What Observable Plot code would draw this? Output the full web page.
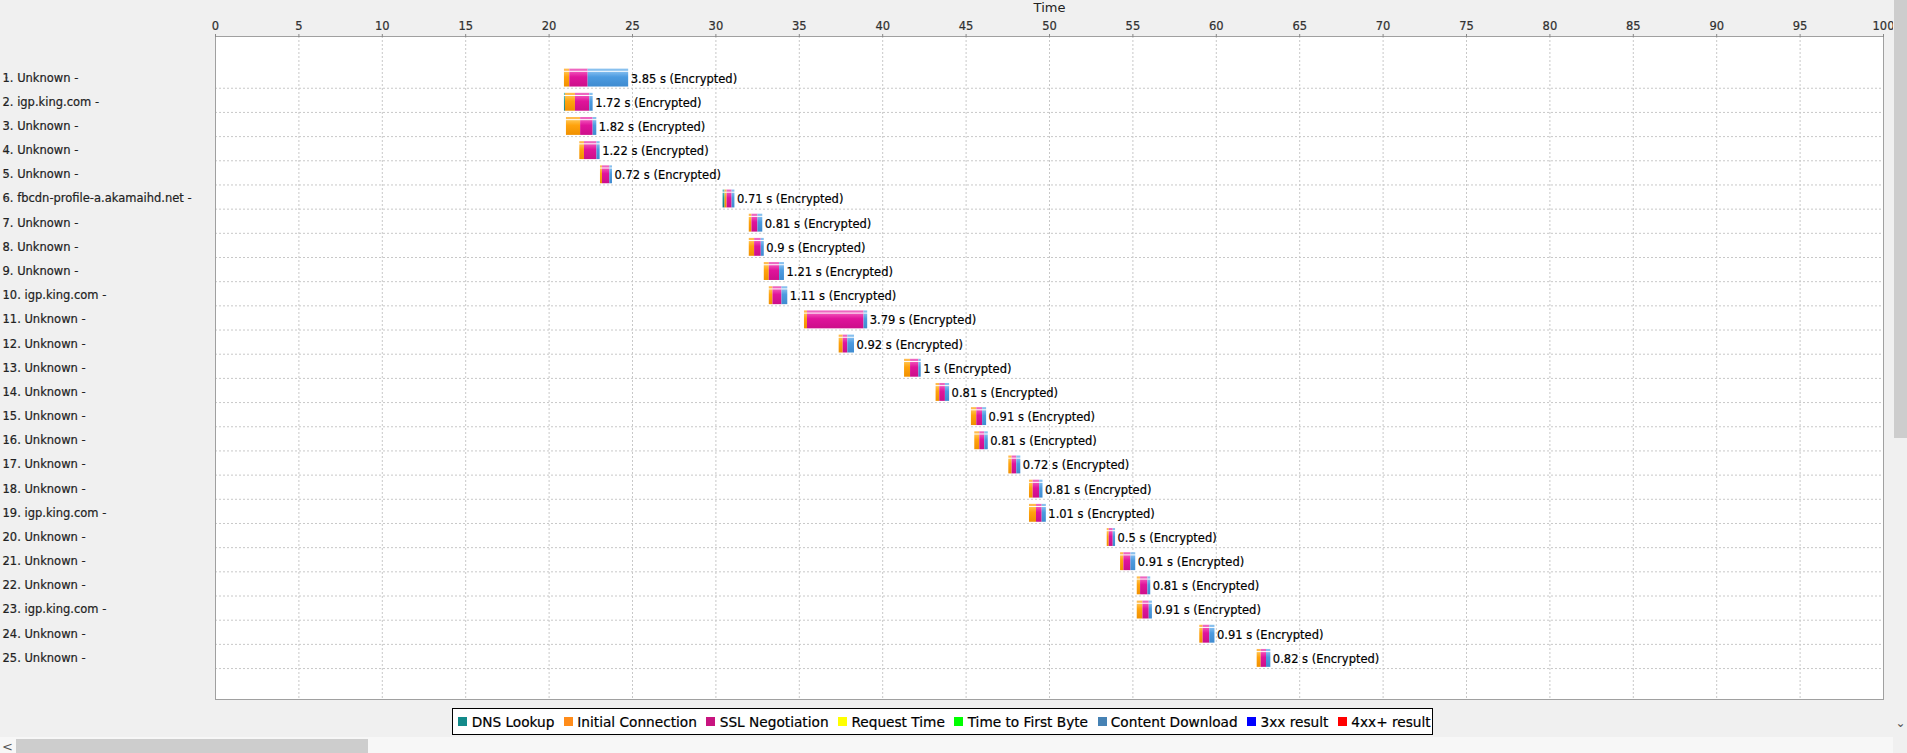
<!DOCTYPE html>
<html>
<head>
<meta charset="utf-8">
<script src="https://cdn.jsdelivr.net/npm/d3@7"></script>
<script src="https://cdn.jsdelivr.net/npm/@observablehq/plot@0.6"></script>
<style>
html, body { margin: 0; padding: 0; background: #f0f0f0; overflow: hidden; }
#wrap { position: relative; width: 1907px; height: 753px; font-family: "DejaVu Sans", sans-serif; }
#chart { position: absolute; left: 0; top: 0; }
#legend { position: absolute; top: 708px; left: 0; width: 1885px; display: flex; justify-content: center; }
#legend .box { display: flex; align-items: center; height: 25px; border: 1px solid #000; background: #fff; padding: 0 1px 0 5px; font-size: 13.7px; color: #000; white-space: nowrap; -webkit-text-stroke: 0.2px #000; }
#legend .item { display: flex; align-items: center; margin-right: 9.5px; }
#legend .item:last-child { margin-right: 0; }
#legend .sw { width: 9px; height: 9px; margin-right: 4.3px; }
#vscroll { position: absolute; left: 1893px; top: 0; width: 14px; height: 737px; background: #f0f0f0; }
#vthumb { position: absolute; left: 1px; top: 0; width: 13px; height: 438px; background: #cdcdcd; }
#vdown { position: absolute; left: 1px; top: 716px; width: 13px; text-align: center; font-size: 12px; color: #555; }
#hscroll { position: absolute; left: 0; top: 737px; width: 1893px; height: 16px; background: #f7f7f7; }
#hthumb { position: absolute; left: 16px; top: 2px; width: 352px; height: 14px; background: #cdcdcd; }
#hleft { position: absolute; left: 2px; top: 2px; font-size: 13px; color: #555; }
</style>
</head>
<body>
<div id="wrap">
  <div id="chart"></div>
  <div id="legend"><div class="box" id="legendBox"></div></div>
  <div id="vscroll"><div id="vthumb"></div><div id="vdown">&#8964;</div></div>
  <div id="hscroll"><div id="hleft">&lt;</div><div id="hthumb"></div></div>
</div>
<script>
// ---- data ----
const hosts = ["Unknown","igp.king.com","Unknown","Unknown","Unknown","fbcdn-profile-a.akamaihd.net","Unknown","Unknown","Unknown","igp.king.com",
  "Unknown","Unknown","Unknown","Unknown","Unknown","Unknown","Unknown","Unknown","igp.king.com","Unknown",
  "Unknown","Unknown","igp.king.com","Unknown","Unknown"];
const starts   = [20.92,20.92,21.04,21.84,23.08,30.43,32.0,32.0,32.9,33.2,35.31,37.39,41.31,43.2,45.32,45.52,47.56,48.8,48.8,53.46,54.26,55.26,55.26,59.01,62.45];
const dns      = [0,0.06,0,0,0,0.12,0,0,0,0,0,0,0,0,0,0,0,0,0,0,0,0,0,0,0];
const connect  = [0.32,0.60,0.85,0.28,0.12,0.12,0.16,0.32,0.30,0.22,0.18,0.24,0.36,0.22,0.32,0.30,0.20,0.22,0.42,0.12,0.20,0.20,0.34,0.20,0.24];
const ssl      = [1.10,0.86,0.75,0.75,0.44,0.30,0.36,0.40,0.62,0.54,3.39,0.28,0.50,0.34,0.35,0.30,0.28,0.39,0.34,0.24,0.42,0.44,0.38,0.40,0.32];
const request  = [0,0,0,0,0,0,0,0,0,0,0,0,0,0,0,0,0,0,0,0,0,0,0,0,0];
const ttfb     = [0,0,0,0,0,0,0,0,0,0,0,0,0,0,0,0,0,0,0,0,0,0,0,0,0];
const download = [2.43,0.20,0.22,0.19,0.16,0.17,0.29,0.18,0.29,0.35,0.22,0.40,0.14,0.25,0.24,0.21,0.24,0.20,0.25,0.14,0.29,0.17,0.19,0.31,0.26];
const totals   = [3.85,1.72,1.82,1.22,0.72,0.71,0.81,0.9,1.21,1.11,3.79,0.92,1,0.81,0.91,0.81,0.72,0.81,1.01,0.5,0.91,0.81,0.91,0.91,0.82];
const xTicks   = [0,5,10,15,20,25,30,35,40,45,50,55,60,65,70,75,80,85,90,95,100];
const phases   = ["DNS Lookup","Initial Connection","SSL Negotiation","Request Time","Time to First Byte","Content Download"];
const legendNames  = ["DNS Lookup","Initial Connection","SSL Negotiation","Request Time","Time to First Byte","Content Download","3xx result","4xx+ result"];
const legendColors = ["#138a8a","#ff8c1a","#c8147f","#ffff00","#00ff00","#4682b4","#0000ff","#ff0000"];

// bar colours (gradient light -> base -> dark) and top strip colour
const barLight = ["#4fb8b8","#ffc24a","#f04fb8","#ffff80","#80ff80","#80bcef"];
const barBase  = ["#1a9a9a","#ffa30d","#e0149b","#f2f200","#00e600","#4c9be0"];
const barDark  = ["#137f7f","#f09000","#cc0f8a","#dddd00","#00cc00","#3f8bd0"];
const stripCol = ["#5cbcbc","#ffbb4d","#ee66c0","#ffff80","#80ff80","#88c0ee"];

// ---- derived table ----
const phaseValues = [dns, connect, ssl, request, ttfb, download];
const segments = [];
hosts.forEach((h, i) => {
  let t = starts[i];
  phaseValues.forEach((arr, k) => {
    const v = arr[i];
    if (v > 0) { segments.push({row: i + 1, k, x1: t, x2: t + v}); t += v; }
  });
});
const rowsTable = hosts.map((h, i) => ({row: i + 1, end: starts[i] + totals[i], label: `${totals[i]} s (Encrypted)`}));
const rowIdx = hosts.map((h, i) => i + 1);

const barMarks = [];
phases.forEach((p, k) => {
  const data = segments.filter(s => s.k === k);
  barMarks.push(Plot.rect(data, {x1: "x1", x2: "x2", y1: d => d.row - 0.36, y2: d => d.row - 0.27, fill: stripCol[k]}));
  barMarks.push(Plot.rect(data, {x1: "x1", x2: "x2", y1: d => d.row - 0.23, y2: d => d.row + 0.38, fill: `url(#grad${k})`}));
});

const chart = Plot.plot({
  width: 1893,
  height: 705,
  marginTop: 36,
  marginBottom: 6,
  marginLeft: 215,
  marginRight: 10,
  style: {fontFamily: '"DejaVu Sans", sans-serif', fontSize: "11.5px", background: "transparent", color: "#222", overflow: "visible"},
  x: {domain: [0, 100]},
  y: {domain: [-0.71, 26.71], reverse: true},
  marks: [
    Plot.frame({fill: "white"}),
    Plot.ruleX(xTicks.slice(1, -1), {stroke: "#c8c8c8", strokeDasharray: "2,2"}),
    Plot.ruleY(rowIdx, {y: d => d + 0.43, stroke: "#c8c8c8", strokeDasharray: "2,2"}),
    Plot.frame({stroke: "#a0a0a0"}),
    ...barMarks,
    Plot.text(rowsTable, {x: "end", y: "row", text: "label", textAnchor: "start", dx: 2, dy: 1, fill: "#000", stroke: "#000", strokeWidth: 0.2}),
    Plot.axisX({anchor: "top", ticks: xTicks, tickSize: 3, tickPadding: 4, label: null, stroke: "#888", fill: "#333"}),
    Plot.axisY({ticks: rowIdx, tickFormat: i => `${i}. ${hosts[i - 1]} -`, tickSize: 3, tickPadding: 3, textAnchor: "start", dx: -207, label: null, stroke: "#888", fill: "#222"}),
    Plot.text(["Time"], {frameAnchor: "top", dy: -34, fontSize: 13, fill: "#222"})
  ]
});

// gradients for the bars
const defs = d3.select(chart).insert("defs", ":first-child");
phases.forEach((p, k) => {
  const g = defs.append("linearGradient").attr("id", `grad${k}`).attr("x1", 0).attr("y1", 0).attr("x2", 0).attr("y2", 1);
  g.append("stop").attr("offset", "0%").attr("stop-color", barLight[k]);
  g.append("stop").attr("offset", "35%").attr("stop-color", barBase[k]);
  g.append("stop").attr("offset", "100%").attr("stop-color", barDark[k]);
});
// slightly heavier axis text, like the reference rendering
d3.select(chart).selectAll("g[aria-label='y-axis tick label'] text, g[aria-label='x-axis tick label'] text")
  .attr("stroke", "#222").attr("stroke-width", 0.2);
document.getElementById("chart").appendChild(chart);

// legend
const box = document.getElementById("legendBox");
legendNames.forEach((n, i) => {
  const it = document.createElement("div");
  it.className = "item";
  const sw = document.createElement("div");
  sw.className = "sw";
  sw.style.background = legendColors[i];
  const tx = document.createElement("span");
  tx.textContent = n;
  it.appendChild(sw); it.appendChild(tx);
  box.appendChild(it);
});
</script>
</body>
</html>
